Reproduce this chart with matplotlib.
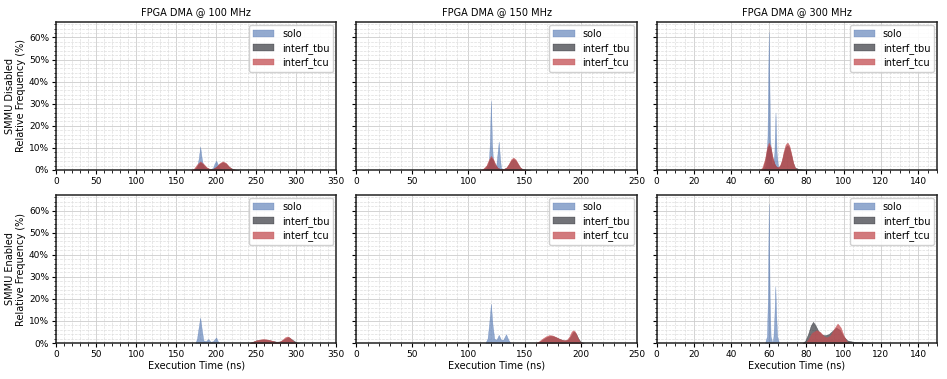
import matplotlib
matplotlib.use('Agg')
import matplotlib.pyplot as plt
from matplotlib.ticker import AutoMinorLocator, PercentFormatter, MultipleLocator

# ---- data (relative frequency in %) ----
freqs = ['100 MHz', '150 MHz', '300 MHz']
modes = ['SMMU Disabled', 'SMMU Enabled']
series = ['solo', 'interf_tbu', 'interf_tcu']
xmax = [350, 250, 150]
xstep = [50, 50, 20]

# SMMU disabled, 100 MHz
solo_dis_100_x = [172, 176, 178, 180, 182, 184, 188, 192, 196, 198, 200, 202, 204, 208]
solo_dis_100_y = [0, 1, 5, 10.5, 5, 1.5, 0.3, 0.1, 1, 3, 4.2, 2.5, 0.8, 0]
tbu_dis_100_x = [170, 174, 177, 180, 184, 188, 192, 196, 200, 204, 208, 212, 216, 220, 224, 228]
tbu_dis_100_y = [0, 0.8, 2.2, 3.4, 2.4, 1.0, 0.4, 0.5, 1.3, 2.7, 3.5, 2.9, 1.4, 0.5, 0.15, 0]
tcu_dis_100_x = [168, 172, 176, 180, 184, 188, 192, 196, 200, 204, 208, 212, 216, 220, 224]
tcu_dis_100_y = [0, 0.5, 2.5, 3.9, 2.8, 1.2, 0.4, 0.5, 1.5, 3, 3.9, 3.2, 1.5, 0.4, 0]

# SMMU disabled, 150 MHz
solo_dis_150_x = [115, 118, 119, 120, 121, 122, 124, 125, 126, 127, 128, 129, 131]
solo_dis_150_y = [0, 2, 12, 31.5, 12, 3, 1, 3, 8, 12.8, 6, 1, 0]
tbu_dis_150_x = [112, 115, 117, 118, 120, 122, 124, 126, 128, 130, 132, 134, 136, 138, 140, 142, 144, 146, 148, 151, 155]
tbu_dis_150_y = [0, 1, 2.5, 3.8, 5.6, 4.4, 2.2, 0.9, 0.5, 0.4, 0.6, 1.1, 2.5, 4.2, 5.0, 4.3, 2.7, 1.1, 0.5, 0.15, 0]
tcu_dis_150_x = [110, 113, 116, 118, 120, 122, 124, 126, 128, 130, 132, 134, 136, 138, 140, 142, 144, 146, 148, 151]
tcu_dis_150_y = [0, 0.5, 2, 4.5, 6.4, 5, 2.5, 1, 0.5, 0.4, 0.6, 1.2, 2.8, 4.8, 5.6, 4.8, 3, 1.2, 0.4, 0]

# SMMU disabled, 300 MHz
solo_dis_300_x = [57, 58.5, 59.3, 60, 60.7, 61.5, 62.3, 63, 63.6, 64.2, 65, 66]
solo_dis_300_y = [0, 2, 15, 62.5, 15, 3, 2, 8, 26, 8, 1, 0]
tbu_dis_300_x = [56, 57, 58, 59, 60, 61, 62, 63, 64, 65, 66, 67, 68, 69, 70, 71, 72, 73, 74, 76, 78, 82]
tbu_dis_300_y = [0, 1.2, 4.2, 8.8, 11.2, 9.5, 5.4, 2.7, 1.4, 1.1, 1.8, 4.0, 7.6, 10.4, 11.2, 10.0, 6.8, 3.2, 1.1, 0.4, 0.2, 0]
tcu_dis_300_x = [55, 56.5, 58, 59, 60, 61, 62, 63, 64, 65, 66, 67, 68, 69, 70, 71, 72, 73, 74, 75.5]
tcu_dis_300_y = [0, 1, 5, 10, 12.4, 10.5, 6, 3, 1.5, 1.2, 2, 4.5, 8.5, 11.5, 12.4, 11, 7.5, 3.5, 1, 0]

# SMMU enabled, 100 MHz
solo_en_100_x = [174, 176, 178, 180, 182, 184, 187, 190, 193, 196, 198, 200, 202, 204]
solo_en_100_y = [0, 2, 7, 11.5, 6, 1.2, 0.8, 1.8, 0.6, 0.8, 1.8, 2.5, 0.8, 0]
tbu_en_100_x = [242, 246, 250, 255, 260, 265, 270, 275, 280, 285, 290, 295, 300, 304]
tbu_en_100_y = [0, 0.6, 1.2, 1.5, 1.6, 1.4, 1.0, 0.6, 0.7, 1.8, 2.7, 1.5, 0.3, 0]
tcu_en_100_x = [241, 245, 250, 255, 258, 262, 266, 270, 274, 277, 280, 283, 286, 289, 292, 295, 298, 301]
tcu_en_100_y = [0, 0.5, 1.2, 1.6, 1.8, 1.7, 1.4, 1.0, 0.6, 0.5, 0.8, 1.6, 2.6, 3.0, 2.4, 1.2, 0.3, 0]

# SMMU enabled, 150 MHz
solo_en_150_x = [115, 117, 118.5, 120, 121.5, 123, 125, 127, 129, 131, 133.5, 135.5, 137.5]
solo_en_150_y = [0, 2, 9, 17.8, 8, 2, 1.5, 3.7, 1.5, 1.5, 4, 1.5, 0]
tbu_en_150_x = [161, 164, 167, 170, 173, 176, 179, 182, 185, 187, 189, 191, 193, 194, 196, 198, 200, 203]
tbu_en_150_y = [0, 0.8, 1.8, 2.7, 3.2, 3.0, 2.4, 1.7, 1.2, 1.2, 1.6, 3.0, 4.8, 5.2, 4.2, 2.0, 0.6, 0]
tcu_en_150_x = [160, 163, 166, 169, 172, 175, 178, 181, 184, 186, 188, 190, 192, 193.5, 195, 197, 199, 201]
tcu_en_150_y = [0, 0.8, 2, 3, 3.6, 3.4, 2.7, 1.9, 1.4, 1.3, 1.6, 3, 5.2, 5.8, 5.2, 2.8, 0.8, 0]

# SMMU enabled, 300 MHz
solo_en_300_x = [58, 59, 59.5, 60, 60.5, 61, 62, 62.5, 63, 63.5, 64, 64.5, 65.5]
solo_en_300_y = [0, 3, 20, 63, 20, 3, 0, 3, 12, 25.7, 12, 3, 0]
tbu_en_300_x = [78, 79.5, 81, 82.5, 83.7, 85, 86.5, 88, 90, 92, 94, 96, 98, 100, 102, 105, 108, 111, 115]
tbu_en_300_y = [0, 1, 4, 8, 9.6, 8, 5.5, 4, 3.5, 4, 5.5, 7, 6, 3, 1.2, 0.6, 0.4, 0.3, 0]
tcu_en_300_x = [79.5, 81, 83, 85.5, 87.5, 89.5, 91, 93, 95, 96.8, 98.5, 100, 101.5, 103]
tcu_en_300_y = [0, 1.5, 4.5, 5.8, 5, 3, 2.5, 3.5, 6.5, 8.8, 7, 3.5, 1, 0]

curves = [
    [[(solo_dis_100_x, solo_dis_100_y), (tbu_dis_100_x, tbu_dis_100_y), (tcu_dis_100_x, tcu_dis_100_y)],
     [(solo_dis_150_x, solo_dis_150_y), (tbu_dis_150_x, tbu_dis_150_y), (tcu_dis_150_x, tcu_dis_150_y)],
     [(solo_dis_300_x, solo_dis_300_y), (tbu_dis_300_x, tbu_dis_300_y), (tcu_dis_300_x, tcu_dis_300_y)]],
    [[(solo_en_100_x, solo_en_100_y), (tbu_en_100_x, tbu_en_100_y), (tcu_en_100_x, tcu_en_100_y)],
     [(solo_en_150_x, solo_en_150_y), (tbu_en_150_x, tbu_en_150_y), (tcu_en_150_x, tcu_en_150_y)],
     [(solo_en_300_x, solo_en_300_y), (tbu_en_300_x, tbu_en_300_y), (tcu_en_300_x, tcu_en_300_y)]],
]

colors = ['#4C72B0', '#14161E', '#C44E52']
alphas = [0.6, 0.6, 0.75]


def main():
    fig, axes = plt.subplots(2, 3, figsize=(9.47, 3.79), dpi=100, sharey=True)
    fig.subplots_adjust(left=56 / 947, right=937 / 947, top=1 - 22 / 379,
                        bottom=1 - 343 / 379, wspace=0.071, hspace=0.17)

    for r in range(2):
        for c in range(3):
            ax = axes[r, c]
            ax.set_axisbelow(True)
            for k, name in enumerate(series):
                xs, ys = curves[r][c][k]
                ax.fill_between(xs, ys, 0, facecolor=colors[k], alpha=alphas[k],
                                edgecolor=colors[k], linewidth=0.3, label=name)

            ax.set_xlim(0, xmax[c])
            ax.set_ylim(0, 67)
            ax.xaxis.set_major_locator(MultipleLocator(xstep[c]))
            ax.yaxis.set_major_locator(MultipleLocator(10))
            ax.xaxis.set_minor_locator(AutoMinorLocator())
            ax.yaxis.set_minor_locator(AutoMinorLocator())
            ax.yaxis.set_major_formatter(PercentFormatter(decimals=0))
            ax.grid(True, which='major', color='#cccccc', linewidth=0.6)
            ax.grid(True, which='minor', color='#dddddd', linewidth=0.5, linestyle='--')
            ax.tick_params(which='major', labelsize=6.5, length=3, width=0.8, pad=2)
            ax.tick_params(which='minor', length=1.8, width=0.6)
            for s in ax.spines.values():
                s.set_linewidth(1.1)
                s.set_color('#222222')
            ax.legend(loc='upper right', fontsize=7, framealpha=0.9,
                      borderaxespad=0.3, handlelength=2.2, labelspacing=0.4,
                      edgecolor='#cccccc', fancybox=True)

            if r == 0:
                ax.set_title(f'FPGA DMA @ {freqs[c]}', fontsize=7, pad=5)
            else:
                ax.set_xlabel('Execution Time (ns)', fontsize=7, labelpad=1)
            if c == 0:
                ax.set_ylabel(f'{modes[r]}\nRelative Frequency (%)', fontsize=7, labelpad=2)

    plt.savefig('out.png', dpi=100)


if __name__ == '__main__':
    main()
